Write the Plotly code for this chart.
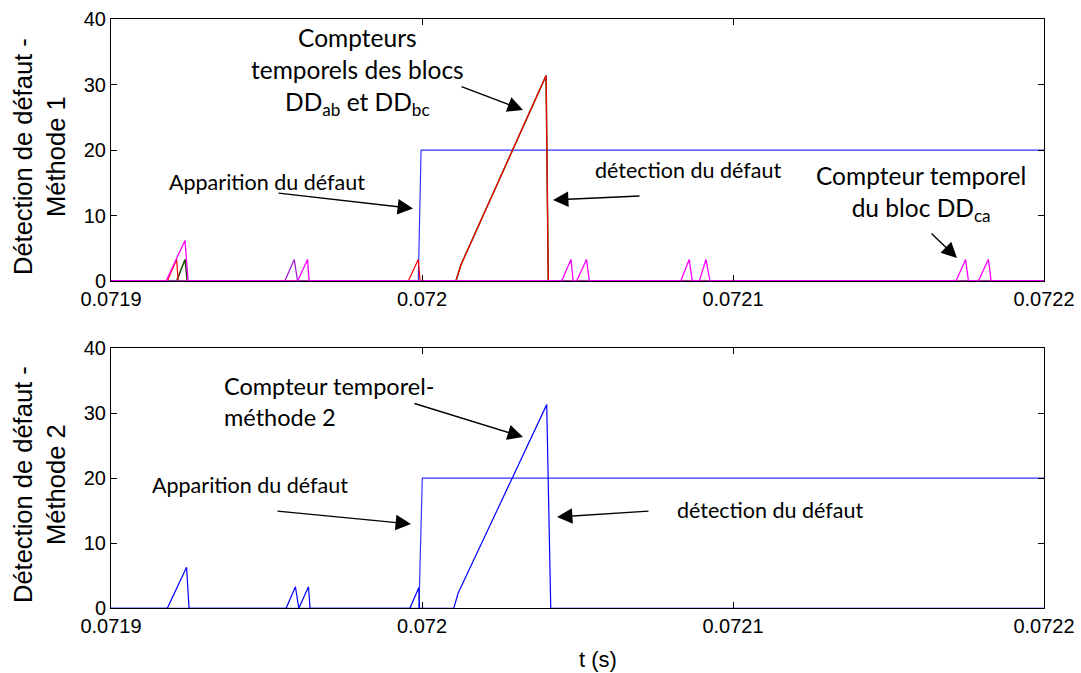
import plotly.graph_objects as go

W, H = 1081, 673

# ---------------- data (t in seconds) ----------------
# Method 1 (top)
m1_flag_t = [0.0719, 0.07199880, 0.07199970, 0.0722]
m1_flag_v = [0, 0, 20, 20]

m1_ddab_t = [0.0719, 0.07191810, 0.07192110, 0.07192160,
             0.07199560, 0.07199880, 0.07199940,
             0.07201090, 0.07201250, 0.07203990, 0.07204060, 0.0722]
m1_ddab_v = [0, 0, 3.3, 0, 0, 3.3, 0, 0, 2.45, 31.4, 0, 0]

m1_ddbc_t = [0.0719, 0.07192110, 0.07192380, 0.07192450,
             0.07201090, 0.07201250, 0.07203990, 0.07204060, 0.0722]
m1_ddbc_v = [0, 0, 3.3, 0, 0, 2.45, 31.4, 0, 0]

m1_mix_t = [0.0719, 0.07195590, 0.07195890, 0.07196000, 0.0722]
m1_mix_v = [0, 0, 3.3, 0, 0]

m1_ddca_t = [0.0719, 0.07191770, 0.07192380, 0.07192480,
             0.07196000, 0.07196320, 0.07196370,
             0.07204490, 0.07204790, 0.07204860,
             0.07204970, 0.07205290, 0.07205380,
             0.07208320, 0.07208590, 0.07208690,
             0.07208920, 0.07209130, 0.07209260,
             0.07217170, 0.07217480, 0.07217570,
             0.07217890, 0.07218210, 0.07218300, 0.0722]
m1_ddca_v = [0, 0, 6.2, 0,
             0, 3.3, 0,
             0, 3.3, 0,
             0, 3.3, 0,
             0, 3.3, 0,
             0, 3.3, 0,
             0, 3.3, 0,
             0, 3.3, 0, 0]

# Method 2 (bottom)
m2_flag_t = [0.0719, 0.07199900, 0.07200010, 0.0722]
m2_flag_v = [0, 0, 20, 20]

m2_cnt_t = [0.0719, 0.07191810, 0.07192430, 0.07192510,
            0.07195630, 0.07195930, 0.07196040, 0.07196350, 0.07196400,
            0.07199610, 0.07199900, 0.07199920,
            0.07201020, 0.07201160, 0.07204010, 0.07204140, 0.0722]
m2_cnt_v = [0, 0, 6.3, 0,
            0, 3.3, 0, 3.3, 0,
            0, 3.2, 0,
            0, 2.3, 31.3, 0, 0]

x_ticks = [0.0719, 0.072, 0.0721, 0.0722]
x_ticklabels = ["0.0719", "0.072", "0.0721", "0.0722"]
y_ticks = [0, 10, 20, 30, 40]

# ---------------- figure ----------------
fig = go.Figure()

def add(t, v, color, width, ax):
    fig.add_trace(go.Scatter(x=t, y=v, mode="lines",
                             line=dict(color=color, width=width),
                             xaxis="x" if ax == 1 else "x2",
                             yaxis="y" if ax == 1 else "y2",
                             showlegend=False, hoverinfo="skip"))

add(m1_flag_t, m1_flag_v, "#3333ff", 1.2, 1)
add(m1_ddbc_t, m1_ddbc_v, "#1a4a00", 1.5, 1)
add(m1_ddab_t, m1_ddab_v, "#ff0000", 1.2, 1)
add(m1_mix_t, m1_mix_v, "#a020d0", 1.3, 1)
add(m1_ddca_t, m1_ddca_v, "#ff00ff", 1.3, 1)

add(m2_flag_t, m2_flag_v, "#3333ff", 1.2, 2)
add(m2_cnt_t, m2_cnt_v, "#0000ff", 1.2, 2)

def px(x, y):
    return x / W, 1 - y / H

xl, xr = 111, 1044
top_t, top_b = 19.3, 281
bot_t, bot_b = 348, 608.3

axis_common = dict(showline=True, linecolor="black", linewidth=1, mirror="ticks",
                   ticks="inside", ticklen=6, tickcolor="black", showgrid=False,
                   zeroline=False, automargin=False,
                   tickfont=dict(family="Liberation Sans, Arial", size=20, color="black"))

fig.update_layout(
    width=W, height=H, margin=dict(l=0, r=0, t=0, b=0, autoexpand=False),
    paper_bgcolor="white", plot_bgcolor="white",
    xaxis=dict(domain=[xl / W, xr / W], range=[0.0719, 0.0722], tickvals=x_ticks,
               ticktext=x_ticklabels, anchor="y", **axis_common),
    yaxis=dict(domain=[1 - top_b / H, 1 - top_t / H], range=[0, 40], tickvals=y_ticks,
               anchor="x", **axis_common),
    xaxis2=dict(domain=[xl / W, xr / W], range=[0.0719, 0.0722], tickvals=x_ticks,
                ticktext=x_ticklabels, anchor="y2", **axis_common),
    yaxis2=dict(domain=[1 - bot_b / H, 1 - bot_t / H], range=[0, 40], tickvals=y_ticks,
                anchor="x2", **axis_common),
)

ann = []
CAL = "Lato, Carlito, Calibri, sans-serif"
ARI = "Liberation Sans, Arial"

def text(x, y, s, size, family=CAL, align="center", angle=0, xanchor="center"):
    X, Y = px(x, y)
    ann.append(dict(x=X, y=Y, xref="paper", yref="paper", text=s, showarrow=False,
                    font=dict(family=family, size=size, color="black"), align=align,
                    textangle=angle, xanchor=xanchor, yanchor="middle"))

def arrow(tx, ty, hx, hy):
    X, Y = px(hx, hy)
    ann.append(dict(x=X, y=Y, xref="paper", yref="paper", text="", showarrow=True,
                    ax=tx - hx, ay=ty - hy, arrowhead=2, arrowsize=2.2, arrowwidth=1.4,
                    arrowcolor="black", standoff=0, startstandoff=0))

# Y titles
text(39, 157, "Détection de défaut -<br>Méthode 1", 25.5, family=ARI, angle=-90)
text(39, 485, "Détection de défaut -<br>Méthode 2", 25.5, family=ARI, angle=-90)
# X title
text(598, 659, "t (s)", 22, family=ARI)

# Top annotations
text(357, 72, "Compteurs<br>temporels des blocs<br>DD<sub>ab</sub> et DD<sub>bc</sub>", 24.5)
arrow(460, 86, 523, 110)
text(267, 182, "Apparition du défaut", 21.5)
arrow(277, 193, 413, 208.5)
text(688, 170, "détection du défaut", 21.5)
arrow(641, 196, 553, 200)
text(921, 194, "Compteur temporel<br>du bloc DD<sub>ca</sub>", 24.5)
arrow(930, 232, 957, 258)

# Bottom annotations
text(222, 401, "Compteur temporel-<br>méthode 2", 23.5, align="left", xanchor="left")
arrow(413, 403, 523, 437)
text(250, 485, "Apparition du défaut", 21.5)
arrow(276, 511, 411, 524)
text(770, 510, "détection du défaut", 21.5)
arrow(650, 511, 557, 517)

fig.update_layout(annotations=ann)

fig.write_html("out.html", config={"displayModeBar": False},
               post_script="document.body.style.margin='0';document.body.style.overflow='hidden';")
